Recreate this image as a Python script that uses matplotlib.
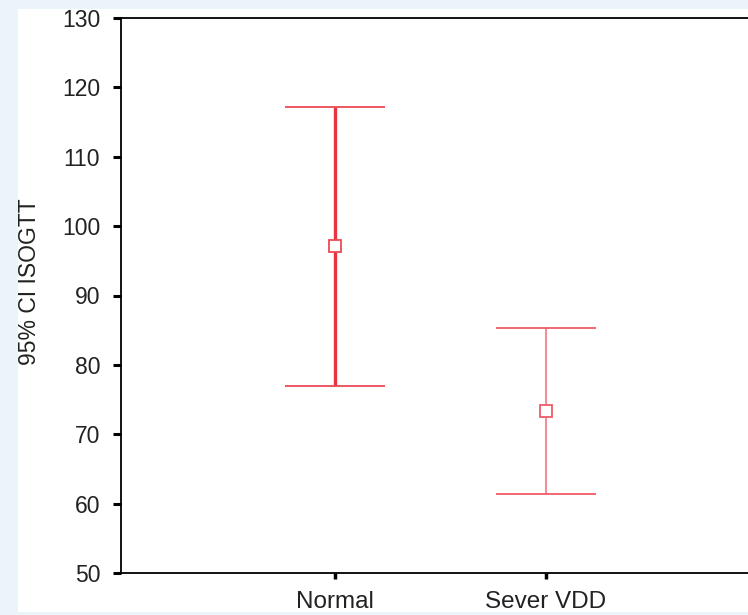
import matplotlib.pyplot as plt
from matplotlib.patches import Rectangle

# data
groups = ["Normal", "Sever VDD"]
means = [97.1, 73.3]
lower = [76.9, 61.4]
upper = [117.2, 85.3]

LINE_COLORS = ["#e8343f", "#f48e98"]
CAP_COLORS = ["#ec4a55", "#f05a68"]
LINE_WIDTHS = [2.4, 1.5]
CAP_HALF = 0.235

plt.rcParams["font.family"] = ["Liberation Sans", "DejaVu Sans"]

fig = plt.figure(figsize=(7.48, 6.15), dpi=100, facecolor="#ebf4f9")
bg = Rectangle((18 / 748, 0.005), 1, 1 - 9 / 615 - 0.005,
               transform=fig.transFigure, facecolor="white",
               edgecolor="none", zorder=-10)
fig.patches.append(bg)
ax = fig.add_axes([121 / 748, 42 / 615, 1 - 121 / 748, 555 / 615])
ax.set_zorder(1)
ax.set_facecolor("none")

xs = [1, 2]
for i, x in enumerate(xs):
    ax.vlines(x, lower[i], upper[i], color=LINE_COLORS[i], linewidth=LINE_WIDTHS[i], zorder=2)
    ax.hlines([lower[i], upper[i]], x - CAP_HALF, x + CAP_HALF, color=CAP_COLORS[i],
              linewidth=1.3, zorder=2)
    ax.plot(x, means[i], marker="s", markersize=9, markerfacecolor="white",
            markeredgecolor=CAP_COLORS[i], markeredgewidth=1.3, linestyle="None", zorder=3)

ax.set_xlim(-0.014, 2.957)
ax.set_ylim(50, 130)
ax.set_yticks(range(50, 131, 10))
ax.set_xticks(xs)
ax.set_xticklabels(groups)
ax.set_ylabel("95% CI ISOGTT", fontsize=16.5, color="#222222")
ax.yaxis.set_label_coords(-0.128, 0.524)

ax.spines["right"].set_visible(False)
for s in ["left", "top", "bottom"]:
    ax.spines[s].set_linewidth(1.3)
ax.tick_params(axis="y", length=6, width=2.2, labelsize=16.5, pad=9, colors="black", labelcolor="#222222")
ax.tick_params(axis="x", length=4, width=2.5, labelsize=17.5, pad=9, labelcolor="#222222")

fig.savefig("out.png", dpi=100, facecolor=fig.get_facecolor())
